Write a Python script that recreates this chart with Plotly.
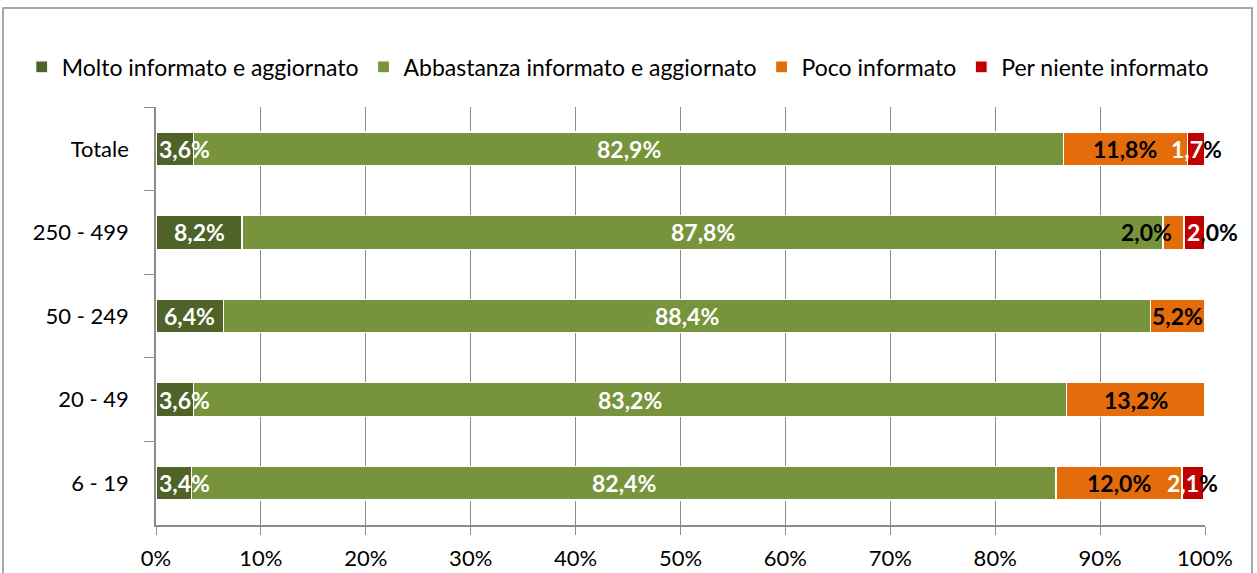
import plotly.graph_objects as go

# Categories (top to bottom) and series values (%)
categories = ["Totale", "250 - 499", "50 - 249", "20 - 49", "6 - 19"]
molto = [3.6, 8.2, 6.4, 3.6, 3.4]
abbastanza = [82.9, 87.8, 88.4, 83.2, 82.4]
poco = [11.8, 2.0, 5.2, 13.2, 12.0]
per_niente = [1.7, 2.0, 0.0, 0.0, 2.1]

series_names = ["Molto informato e aggiornato", "Abbastanza informato e aggiornato",
                "Poco informato", "Per niente informato"]
series_values = [molto, abbastanza, poco, per_niente]
colors = ["#4F6228", "#77933C", "#E46C0A", "#C00000"]

FONT = "Lato, Calibri, 'Open Sans', sans-serif"


def fmt(v):
    return f"{v:.1f}%".replace(".", ",")


fig = go.Figure()
for name, vals, col in zip(series_names, series_values, colors):
    fig.add_trace(go.Bar(
        y=categories, x=vals, name=name, orientation="h",
        marker=dict(color=col, line=dict(color="white", width=1.2)),
        width=0.4, hoverinfo="x+name",
    ))

# data labels, placed at each segment's centre
annotations = []
for i, cat in enumerate(categories):
    start = 0.0
    for s, vals in enumerate(series_values):
        v = vals[i]
        if v <= 0:
            start += v
            continue
        text = fmt(v)
        xanchor = "center"
        x = start + v / 2
        xshift = 0
        if s in (0, 1):
            color = "white"
            if s == 0 and v < 5:
                x, xanchor, xshift = 0, "left", 1
        elif s == 2:
            color = "black"
            if v < 3:
                xanchor, xshift = "right", 0
        else:
            color = "black"
            num, rest = text[:-1], "%"
            if cat == "250 - 499":
                num, rest = text[:1], text[1:]
                x, xanchor, xshift = start, "left", 1
            text = f"<span style='color:white'>{num}</span>{rest}"
        annotations.append(dict(
            x=x, y=cat, xref="x", yref="y", text=text, showarrow=False,
            xanchor=xanchor, xshift=xshift,
            font=dict(family=FONT, size=23, color=color, weight="bold"),
        ))
        start += v

fig.update_layout(
    barmode="stack",
    width=1257, height=573,
    margin=dict(l=156, r=52, t=107, b=48, autoexpand=False),
    paper_bgcolor="white", plot_bgcolor="white",
    font=dict(family=FONT, size=23, color="black"),
    legend=dict(orientation="h", x=-0.128, xanchor="left", y=1.096, yanchor="middle",
                font=dict(size=23), itemclick=False, traceorder="normal",
                bgcolor="rgba(0,0,0,0)", tracegroupgap=0, itemwidth=30),
    annotations=annotations,
    showlegend=True,
    shapes=[dict(type="rect", xref="paper", yref="paper",
                 x0=(3 - 156) / 1049, x1=(1252 - 156) / 1049,
                 y0=-0.2, y1=(525 - 8) / 418,
                 line=dict(color="#8C8C8C", width=1.5), layer="below")],
)

fig.update_xaxes(
    range=[0, 100], dtick=10, ticksuffix="%",
    showgrid=True, gridcolor="#8C8C8C", gridwidth=1,
    showline=True, linecolor="#8C8C8C", linewidth=1.5,
    ticks="outside", ticklen=8, tickcolor="#8C8C8C", ticklabelstandoff=5,
    tickfont=dict(size=22), zeroline=False, fixedrange=True,
)
fig.update_yaxes(
    autorange="reversed", type="category",
    showline=True, linecolor="#8C8C8C", linewidth=1.5,
    ticks="outside", ticklen=10, tickcolor="#8C8C8C", tickson="boundaries",
    ticklabelstandoff=21,
    tickfont=dict(size=22), showgrid=False, fixedrange=True,
)

fig.write_html("out.html", config={"displayModeBar": False},
               post_script="document.body.style.margin='0';")
